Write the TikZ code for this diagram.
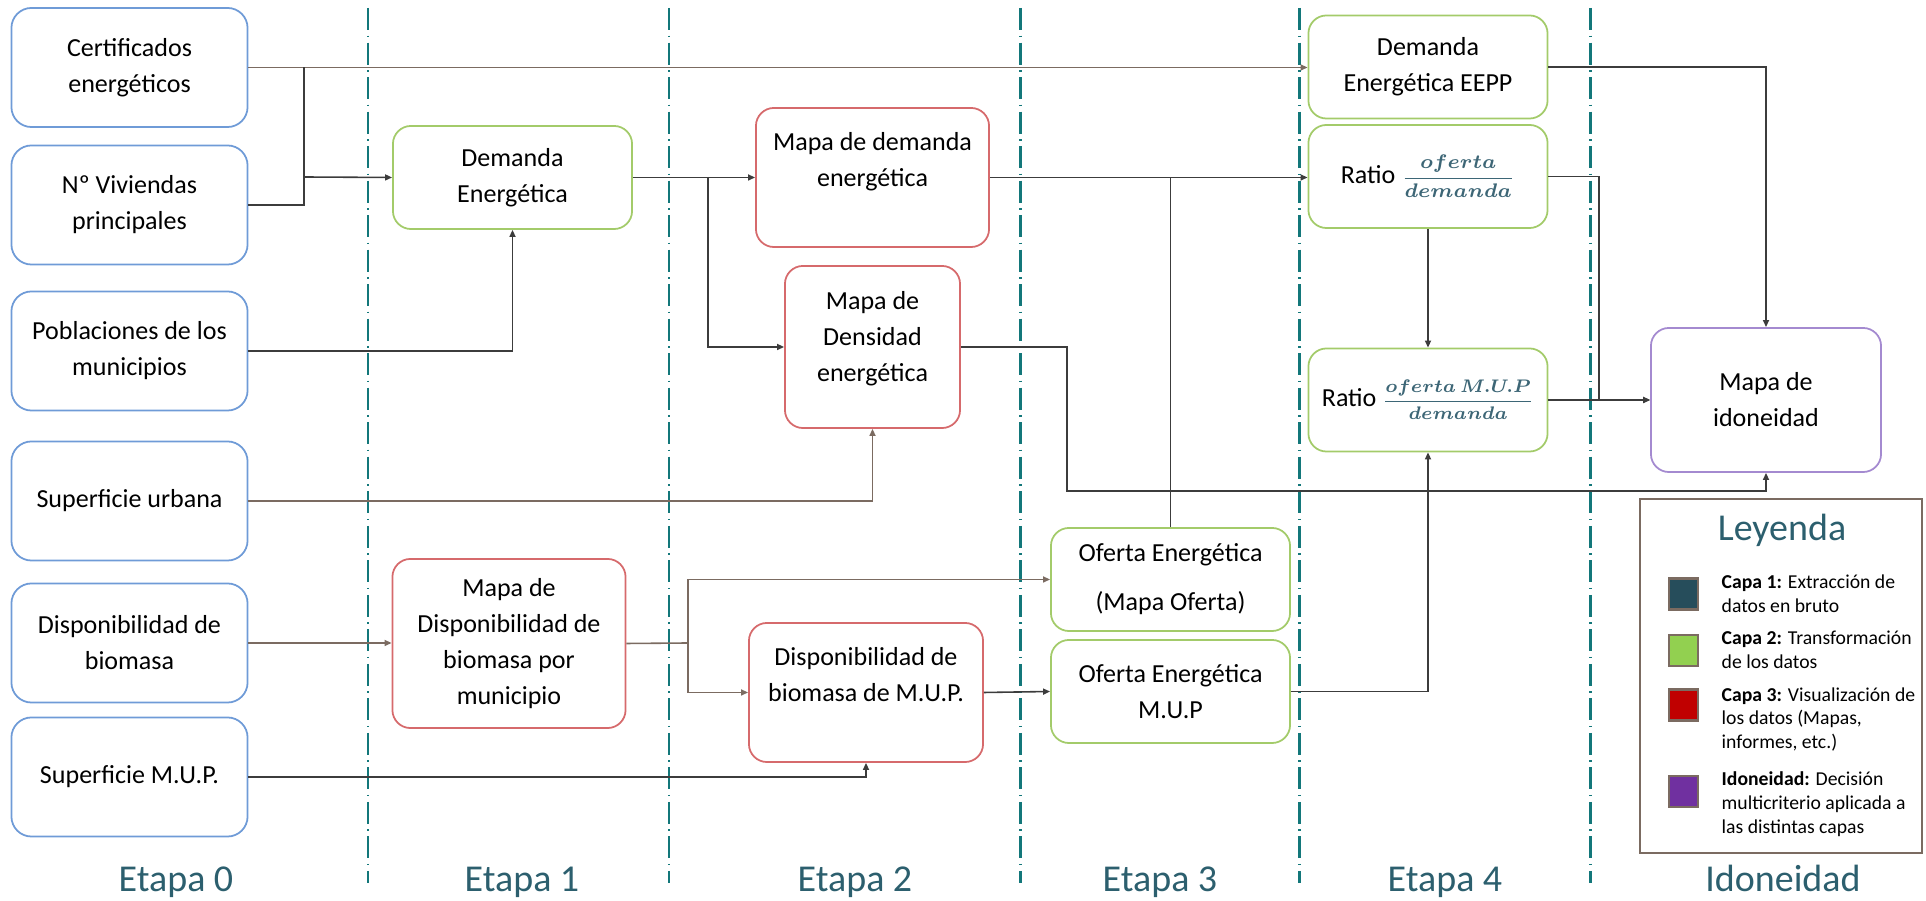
\documentclass[tikz,border=0pt]{standalone}
\usepackage{fontspec}
\setmainfont{Carlito}
\usepackage{tikz}
\usetikzlibrary{arrows.meta, positioning}

\definecolor{rawblue}{HTML}{6F9BD7}
\definecolor{transgreen}{HTML}{A3CB6A}
\definecolor{mapred}{HTML}{D66A6C}
\definecolor{fitpurple}{HTML}{A48AD0}
\definecolor{stageteal}{HTML}{13777A}
\definecolor{titleslate}{HTML}{2C5F6E}
\definecolor{mathslate}{HTML}{3D6676}
\definecolor{linkdark}{HTML}{3C3C3C}
\definecolor{linkbrown}{HTML}{7B6B61}
\definecolor{capaone}{HTML}{264D5B}
\definecolor{capatwo}{HTML}{92D050}
\definecolor{capathree}{HTML}{C00000}
\definecolor{capafour}{HTML}{7030A0}

\begin{document}
\begin{tikzpicture}[x=0.01cm, y=-0.01cm, font=\fontsize{7.4}{10.24}\selectfont]
        % Setup the styles for the boxes, links and stages
        \tikzset{box/.style={rectangle,
                             rounded corners=0.18cm,
                             draw,
                             line width=0.5pt,
                             align=center,
                             minimum width=2.39cm,
                             minimum height=1.03cm},
                 raw box/.style={box, draw=rawblue, rounded corners=0.2cm,
                                 minimum width=2.36cm, minimum height=1.19cm},
                 trans box/.style={box, draw=transgreen},
                 map box/.style={box, draw=mapred},
                 fit box/.style={box, draw=fitpurple},
                 link/.style={line width=0.45pt, draw=linkdark},
                 arrow link/.style={link, -{Triangle[length=0.07cm, width=0.06cm]}},
                 soft link/.style={link, draw=linkbrown},
                 soft arrow/.style={arrow link, draw=linkbrown},
                 stage line/.style={line width=0.85pt, draw=stageteal,
                                    dash pattern=on 0.22cm off 0.055cm on 0.015cm off 0.055cm},
                 stage label/.style={anchor=base, text=titleslate,
                                     font=\fontsize{10.8}{12}\selectfont},
                 swatch/.style={rectangle, draw=linkbrown, line width=0.6pt,
                                minimum width=0.29cm, minimum height=0.31cm},
                 legend text/.style={anchor=west, align=left, inner sep=0pt,
                                     font=\fontsize{5.6}{6.8}\selectfont}}

        \useasboundingbox (0,0) rectangle (1926,901);

        % Draw the stage separators
        \foreach \x in {368, 669, 1020, 1299, 1590}
            \draw[stage line] (\x,8) -- (\x,883);

        % Draw the raw data boxes
        \node[raw box] at (129.5, 67.5) (cert)   {Certificados\\energéticos};
        \node[raw box] at (129.5, 205)  (viv)    {Nº Viviendas\\principales};
        \node[raw box] at (129.5, 351)  (pobl)   {Poblaciones de los\\municipios};
        \node[raw box] at (129.5, 501)  (surb)   {Superficie urbana};
        \node[raw box] at (129.5, 643)  (disp)   {Disponibilidad de\\biomasa};
        \node[raw box] at (129.5, 777)  (supmup) {Superficie M.U.P.};

        % Draw the transformation and map boxes
        \node[trans box] at (512.5, 177.5) (dem) {Demanda\\Energética};
        \node[map box, minimum width=2.33cm, minimum height=1.39cm]
            at (872.5, 177.5) (mapadem) {Mapa de demanda\\energética\\[0pt]\mbox{}};
        \node[map box, minimum width=1.75cm, minimum height=1.62cm]
            at (872.5, 347) (dens) {Mapa de\\Densidad\\energética\\[-4pt]\mbox{}};
        \node[map box, minimum width=2.33cm, minimum height=1.69cm]
            at (509, 643.5) (mapadisp) {Mapa de\\Disponibilidad de\\biomasa por\\municipio};
        \node[map box, minimum width=2.34cm, minimum height=1.39cm]
            at (866, 692.5) (dispmup) {Disponibilidad de\\biomasa de M.U.P.\\[0pt]\mbox{}};
        \node[trans box] at (1170.5, 579.5) (oferta)    {Oferta Energética\\[3.7pt](Mapa Oferta)};
        \node[trans box] at (1170.5, 691.5) (ofertamup) {Oferta Energética\\M.U.P};
        \node[trans box] at (1428, 67)    (eepp)  {Demanda\\Energética EEPP};
        \node[trans box] at (1428, 176.5) (ratio)
            {Ratio {\color{mathslate}\scalebox{0.8}{\boldmath$\displaystyle\frac{oferta}{demanda}$}}};
        \node[trans box, inner xsep=2pt] at (1428, 400) (ratiomup)
            {Ratio {\color{mathslate}\scalebox{0.74}{\boldmath$\displaystyle\frac{oferta\,M.U.P}{demanda}$}}};
        \node[fit box, minimum width=2.30cm, minimum height=1.44cm]
            at (1766, 400) (idon) {Mapa de\\idoneidad};

        % Connect the boxes with arrows
        \coordinate (jin)  at (304, 177);
        \coordinate (jdem) at (708, 177);
        \coordinate (jbio) at (688, 643);
        \coordinate (jden) at (1067, 491);
        \coordinate (jrat) at (1599, 400);

        \draw[soft arrow] (cert.east) -- (cert.east -| eepp.west);
        \draw[link] (viv.east) -| (jin |- cert.east);
        \draw[arrow link] (jin) -- (dem.west);
        \draw[arrow link] (pobl.east) -| (dem.south);
        \draw[arrow link] (dem.east) -- (mapadem.west);
        \draw[arrow link] (jdem) |- (dens.west);
        \draw[arrow link] (mapadem.east) -- (mapadem.east -| ratio.west);
        \draw[link] (oferta.north) -- (oferta.north |- mapadem.east);
        \draw[arrow link] (dens.east) -| (jden) -| (idon.south);
        \draw[soft arrow] (surb.east) -| (dens.south);
        \draw[arrow link] (eepp.east) -| (idon.north);
        \draw[arrow link] (ratio.east) -| (jrat) -- (idon.west);
        \draw[arrow link] (ratiomup.east) -- (idon.west);
        \draw[arrow link] (ratio.south) -- (ratiomup.north);
        \draw[soft arrow] (disp.east) -- (disp.east -| mapadisp.west);
        \draw[soft link] (mapadisp.east) -- (jbio);
        \draw[soft arrow] (jbio) |- (oferta.west);
        \draw[soft arrow] (jbio) |- (dispmup.west);
        \draw[arrow link] (supmup.east) -| (dispmup.south);
        \draw[arrow link] (dispmup.east) -- (ofertamup.west);
        \draw[arrow link] (ofertamup.east) -| (ratiomup.south);

        % Draw the legend
        \node[draw=linkbrown, line width=0.6pt, minimum width=2.82cm, minimum height=3.54cm]
            at (1781, 676) (legend) {};
        \node[stage label, anchor=center] at (1782, 530) (legtitle) {Leyenda};
        \node[swatch, fill=capaone]   at (1683.5, 594)   (sw1) {};
        \node[swatch, fill=capatwo]   at (1683.5, 650.5) (sw2) {};
        \node[swatch, fill=capathree] at (1683.5, 705)   (sw3) {};
        \node[swatch, fill=capafour]  at (1683.5, 791.5) (sw4) {};
        \node[legend text] at (1721, 594)   (lt1) {\textbf{Capa 1:} Extracción de\\datos en bruto};
        \node[legend text] at (1721, 650)   (lt2) {\textbf{Capa 2:} Transformación\\de los datos};
        \node[legend text] at (1721, 719.5) (lt3) {\textbf{Capa 3:} Visualización de\\los datos (Mapas,\\informes, etc.)};
        \node[legend text] at (1721, 804)   (lt4) {\textbf{Idoneidad:} Decisión\\multicriterio aplicada a\\las distintas capas};

        % Stage names
        \node[stage label] at (176, 892)  (et0) {Etapa 0};
        \node[stage label] at (522, 892)  (et1) {Etapa 1};
        \node[stage label] at (855, 892)  (et2) {Etapa 2};
        \node[stage label] at (1160, 892) (et3) {Etapa 3};
        \node[stage label] at (1445, 892) (et4) {Etapa 4};
        \node[stage label] at (1783, 892) (et5) {Idoneidad};
\end{tikzpicture}
\end{document}
